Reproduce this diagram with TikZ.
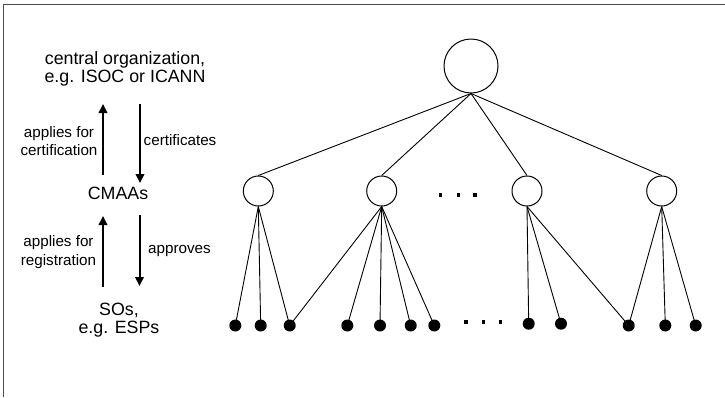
\documentclass[tikz,border=0pt]{standalone}
\usepackage{fontspec}
\setmainfont{Liberation Sans}
\usetikzlibrary{arrows.meta}
\begin{document}
\begin{tikzpicture}[x=1pt,y=-1pt,
  bigtxt/.style={font=\fontsize{17.8}{18}\selectfont, align=center, inner sep=0pt},
  smalltxt/.style={font=\fontsize{15.2}{18.3}\selectfont, align=center, inner sep=0pt},
  rootnode/.style={circle, draw, line width=1pt, minimum size=54pt, inner sep=0pt},
  midnode/.style={circle, draw, line width=1pt, minimum size=30pt, inner sep=0pt},
  leaf/.style={circle, fill=black, minimum size=12pt, inner sep=0pt},
  dotmark/.style={rectangle, fill=black, minimum size=3.4pt, inner sep=0pt},
  edge/.style={line width=0.9pt},
  flow/.style={line width=2pt, -{Triangle[length=9pt,width=8.5pt]}},
  frameline/.style={draw=black!70, line width=1.3pt}]

\useasboundingbox (0,0) rectangle (725,397);

% partial frame: top and left edges
\draw[frameline] (3.5,397) -- (3.5,4.8) -- (725,4.8);

% left column: roles and relations
\node[bigtxt] (central) at (125,69) {central organization,\\e.g. ISOC or ICANN};
\node[bigtxt] (cmaa) at (118,193) {CMAAs};
\node[bigtxt] (sos) at (119,320.5) {SOs,\\e.g. ESPs};

\coordinate (u1a) at (103,175);
\coordinate (u1b) at (103,104);
\coordinate (d1a) at (140,104);
\coordinate (d1b) at (140,183);
\coordinate (u2a) at (103,287);
\coordinate (u2b) at (103,216);
\coordinate (d2a) at (139.5,215);
\coordinate (d2b) at (139.5,286);
\draw[flow] (u1a) -- (u1b);
\draw[flow] (d1a) -- (d1b);
\draw[flow] (u2a) -- (u2b);
\draw[flow] (d2a) -- (d2b);

\node[smalltxt] (apcert) at (59,141) {applies for\\certification};
\node[smalltxt, anchor=west] (certs) at (143.5,140) {certificates};
\node[smalltxt] (apreg) at (58.5,252) {applies for\\registration};
\node[smalltxt, anchor=west] (appr) at (148,251) {approves};

% tree
\node[rootnode] (root) at (471,66) {};
\node[midnode] (m1) at (258.3,191) {};
\node[midnode] (m2) at (381.7,191) {};
\node[midnode] (m3) at (527,191) {};
\node[midnode] (m4) at (661.7,191) {};

\foreach \m in {m1,m2,m3,m4}
  \draw[edge] (root.south) -- (\m.north);

\node[leaf] (l1) at (235.3,325.5) {};
\node[leaf] (l2) at (260.7,325.5) {};
\node[leaf] (l3) at (289.7,325.5) {};
\node[leaf] (l4) at (347.3,325.5) {};
\node[leaf] (l5) at (380,325.5) {};
\node[leaf] (l6) at (410.7,325.5) {};
\node[leaf] (l7) at (434.3,325.5) {};
\node[leaf] (l8) at (528.7,323.7) {};
\node[leaf] (l9) at (561,323.7) {};
\node[leaf] (l10) at (628.7,325.5) {};
\node[leaf] (l11) at (665.3,325.5) {};
\node[leaf] (l12) at (695.7,325.5) {};

\foreach \l in {l1,l2,l3} \draw[edge] (m1.south) -- (\l.center);
\foreach \l in {l3,l4,l5,l6,l7} \draw[edge] (m2.south) -- (\l.center);
\foreach \l in {l8,l9,l10} \draw[edge] (m3.south) -- (\l.center);
\foreach \l in {l10,l11,l12} \draw[edge] (m4.south) -- (\l.center);

% ellipses between groups
\node[dotmark] (ea) at (440.7,195) {};
\node[dotmark] (eb) at (458.3,195) {};
\node[dotmark] (ec) at (475,195) {};
\node[dotmark] (fa) at (466,322) {};
\node[dotmark] (fb) at (483.3,322) {};
\node[dotmark] (fc) at (500.7,322) {};
\end{tikzpicture}
\end{document}
